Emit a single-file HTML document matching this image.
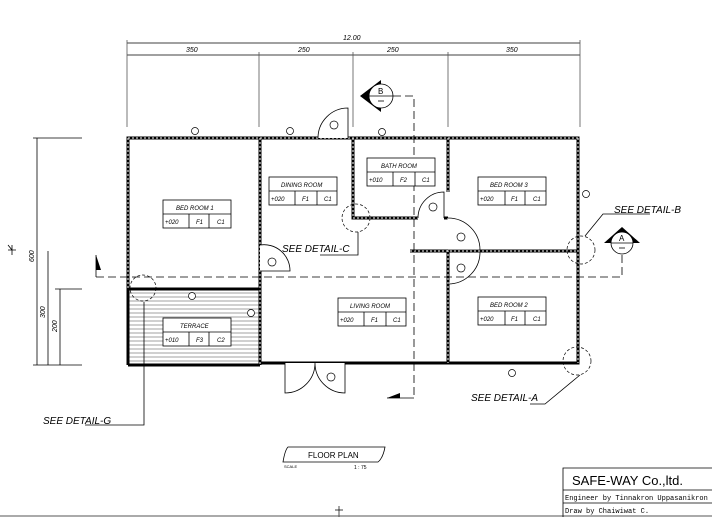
<!DOCTYPE html>
<html><head><meta charset="utf-8"><style>
html,body{margin:0;padding:0;background:#fff;}
svg{display:block;}
text{font-family:"Liberation Sans",sans-serif;fill:#000;}
text.mono{font-family:"Liberation Mono",monospace;}
</style></head><body>
<svg width="712" height="517" viewBox="0 0 712 517" xmlns="http://www.w3.org/2000/svg">
<rect width="712" height="517" fill="#fff"/>
<g stroke="#000" fill="none" stroke-width="0.8">
<line x1="127" y1="43" x2="580" y2="43"/>
<line x1="127" y1="55" x2="580" y2="55"/>
<g stroke="#555"><line x1="127" y1="40" x2="127" y2="127"/><line x1="259" y1="52" x2="259" y2="127"/><line x1="353" y1="52" x2="353" y2="127"/><line x1="448" y1="52" x2="448" y2="127"/><line x1="580" y1="40" x2="580" y2="127"/></g>
<line x1="37" y1="138" x2="37" y2="365"/><line x1="48" y1="251" x2="48" y2="365"/><line x1="60" y1="289" x2="60" y2="365"/>
<line x1="33" y1="138" x2="82" y2="138"/><line x1="33" y1="365" x2="82" y2="365"/><line x1="55" y1="289" x2="82" y2="289"/>
<path d="M8 250h8M12 245v10M8 245l4 5" />
</g>
<g font-size="7" font-style="italic">
<text x="343" y="40">12.00</text><text x="186" y="52">350</text><text x="298" y="52">250</text><text x="387" y="52">250</text><text x="506" y="52">350</text>
<text transform="translate(34,262) rotate(-90)">600</text><text transform="translate(45,318) rotate(-90)">300</text><text transform="translate(57,332) rotate(-90)">200</text>
</g>
<g stroke="#444" stroke-width="0.6">
<path d="M128 293H260M128 297H260M128 301H260M128 305H260M128 309H260M128 313H260M128 317H260M128 321H260M128 325H260M128 329H260M128 333H260M128 337H260M128 341H260M128 345H260M128 349H260M128 353H260M128 357H260M128 361H260"/>
</g>
<g stroke="#000" stroke-width="3" fill="none">
<path d="M128 365V138H578V363H260"/>
<path d="M260 138V365"/>
<path d="M353 138V218H418M444 218H448M448 138V192M448 250V363"/>
<path d="M410 251H578"/>
<path d="M128 289H260"/>
<path d="M128 365H260"/>
</g>
<g stroke="#fff" stroke-width="1"><path d="M128 138H578M128 138V289M578 138V363M260 138V365M448 138V363M353 138V218M353 218H418M410 251H578" stroke-dasharray="2 2"/></g>
<g stroke="#000" stroke-width="0.8" fill="#fff">
<path d="M318 138 A30 30 0 0 1 348 108 V138"/>
<path d="M260 245 A26 26 0 0 1 290 271 H260"/>
<path d="M418 218 A26 26 0 0 1 444 192 V218"/>
<path d="M448 218 A32 32 0 0 1 480 250 H448"/>
<path d="M448 284 A32 32 0 0 0 480 252"/>
<path d="M285 363V393 A30 30 0 0 0 315 363 M345 363V393 A30 30 0 0 1 315 363"/>
</g>
<g stroke="#000" stroke-width="0.8" fill="none">
<path d="M96 277H622V254" stroke-dasharray="8 4"/>
<path d="M393 96H414V398" stroke-dasharray="8 4"/>
<path d="M414 398H387"/>
<path d="M96 277V255"/>
</g>
<path d="M381 80 L360 96 L381 112Z" fill="#000"/>
<path d="M622 227 L604 243 L640 243Z" fill="#000"/>
<g stroke="#000" stroke-width="0.8" fill="#fff">
<circle cx="381" cy="96" r="12"/><line x1="369" y1="96" x2="393" y2="96"/>
<circle cx="622" cy="243" r="11"/><line x1="611" y1="243" x2="633" y2="243"/>
<line x1="378" y1="101" x2="384" y2="101"/><line x1="619" y1="248" x2="625" y2="248"/>
</g>
<path d="M96 255 L96 270 L101 270Z" fill="#000"/>
<path d="M387 398 L400 393 L400 398Z" fill="#000"/>
<g font-size="8"><text x="378" y="94">B</text><text x="619" y="241">A</text></g>
<g stroke="#000" stroke-width="0.7" fill="none" stroke-dasharray="3 2">
<circle cx="143" cy="288" r="13"/><circle cx="356" cy="218" r="14"/><circle cx="581" cy="250" r="14"/><circle cx="577" cy="361" r="14"/>
</g>
<g stroke="#000" stroke-width="0.8" fill="none">
<path d="M144 302V425H85"/><path d="M358 232V255H320"/><path d="M585 236L603 214H650"/><path d="M580 375L545 404H530"/>
</g>
<g font-size="10" font-style="italic"><text x="43" y="424">SEE DETAIL-G</text><text x="282" y="252">SEE DETAIL-C</text><text x="614" y="213">SEE DETAIL-B</text><text x="471" y="401">SEE DETAIL-A</text></g>
<g stroke="#000" stroke-width="0.8" fill="#fff" font-size="6">
<g><rect x="163" y="200" width="68" height="28"/><line x1="163" y1="214" x2="231" y2="214"/><line x1="189" y1="214" x2="189" y2="228"/><line x1="209" y1="214" x2="209" y2="228"/></g>
<g><rect x="269" y="177" width="68" height="28"/><line x1="269" y1="191" x2="337" y2="191"/><line x1="295" y1="191" x2="295" y2="205"/><line x1="317" y1="191" x2="317" y2="205"/></g>
<g><rect x="367" y="158" width="68" height="28"/><line x1="367" y1="172" x2="435" y2="172"/><line x1="393" y1="172" x2="393" y2="186"/><line x1="415" y1="172" x2="415" y2="186"/></g>
<g><rect x="478" y="177" width="68" height="28"/><line x1="478" y1="191" x2="546" y2="191"/><line x1="505" y1="191" x2="505" y2="205"/><line x1="525" y1="191" x2="525" y2="205"/></g>
<g><rect x="338" y="298" width="68" height="28"/><line x1="338" y1="312" x2="406" y2="312"/><line x1="364" y1="312" x2="364" y2="326"/><line x1="386" y1="312" x2="386" y2="326"/></g>
<g><rect x="478" y="297" width="68" height="28"/><line x1="478" y1="311" x2="546" y2="311"/><line x1="505" y1="311" x2="505" y2="325"/><line x1="525" y1="311" x2="525" y2="325"/></g>
<g><rect x="163" y="318" width="68" height="28"/><line x1="163" y1="332" x2="231" y2="332"/><line x1="189" y1="332" x2="189" y2="346"/><line x1="209" y1="332" x2="209" y2="346"/></g>
</g>
<g font-size="6" font-style="italic">
<text x="176" y="210">BED ROOM 1</text><text x="165" y="224">+020</text><text x="196" y="224">F1</text><text x="217" y="224">C1</text>
<text x="281" y="187">DINING ROOM</text><text x="271" y="201">+020</text><text x="302" y="201">F1</text><text x="324" y="201">C1</text>
<text x="381" y="168">BATH ROOM</text><text x="369" y="182">+010</text><text x="400" y="182">F2</text><text x="422" y="182">C1</text>
<text x="490" y="187">BED ROOM 3</text><text x="480" y="201">+020</text><text x="511" y="201">F1</text><text x="533" y="201">C1</text>
<text x="350" y="308">LIVING ROOM</text><text x="340" y="322">+020</text><text x="371" y="322">F1</text><text x="393" y="322">C1</text>
<text x="490" y="307">BED ROOM 2</text><text x="480" y="321">+020</text><text x="511" y="321">F1</text><text x="533" y="321">C1</text>
<text x="180" y="328">TERRACE</text><text x="165" y="342">+010</text><text x="196" y="342">F3</text><text x="217" y="342">C2</text>
</g>
<g stroke="#000" stroke-width="0.7" fill="#fff">
<circle cx="195" cy="131" r="3.5"/><circle cx="290" cy="131" r="3.5"/><circle cx="382" cy="132" r="3.5"/><circle cx="586" cy="194" r="3.5"/><circle cx="512" cy="373" r="3.5"/><circle cx="192" cy="296" r="3.5"/><circle cx="251" cy="313" r="3.5"/>
<circle cx="334" cy="125" r="4"/><circle cx="272" cy="262" r="4"/><circle cx="433" cy="207" r="4"/><circle cx="461" cy="237" r="4"/><circle cx="461" cy="268" r="4"/><circle cx="331" cy="377" r="4"/>
</g>
<path d="M288 447H385Q383 458 378 462H283Q285 450 288 447Z" stroke="#000" stroke-width="0.8" fill="none"/>
<text x="308" y="458" font-size="8">FLOOR PLAN</text>
<text x="284" y="468" font-size="4">SCALE</text><text x="354" y="469" font-size="5">1 :   75</text>
<path d="M335 510h8M339 506v11" stroke="#000" stroke-width="0.7"/>
<line x1="0" y1="516" x2="712" y2="516" stroke="#555" stroke-width="1"/>
<g stroke="#000" stroke-width="0.8" fill="none"><path d="M563 517V468H712M563 490H712M563 503H712"/></g>
<text x="572" y="485" font-size="13">SAFE-WAY Co.,ltd.</text>
<text class="mono" x="565" y="500" font-size="7">Engineer by Tinnakron Uppasanikron</text>
<text class="mono" x="565" y="513" font-size="7">Draw by Chaiwiwat C.</text>
</svg>
</body></html>
